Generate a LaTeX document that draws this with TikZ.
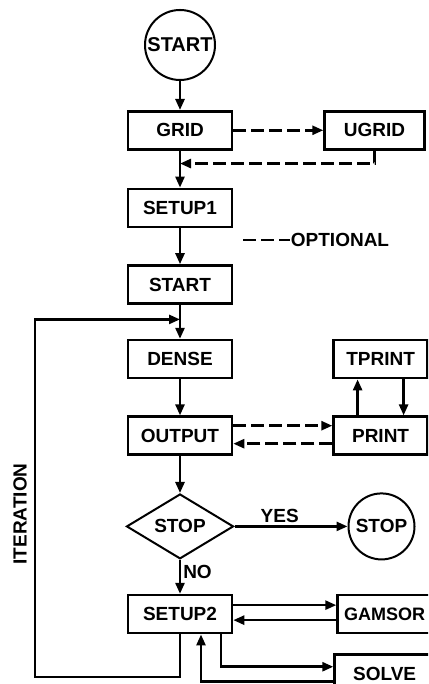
\documentclass[tikz,border=0pt]{standalone}
\usepackage{fontspec}
\setmainfont{Liberation Sans}
\usetikzlibrary{shapes.geometric,arrows.meta,positioning,calc}

\begin{document}
\begin{tikzpicture}[
    x=1pt,y=1pt,
    node distance=36pt,
    every node/.style={font=\fontsize{19}{22}\selectfont\bfseries,inner sep=2pt},
    block/.style={draw,line width=2.6pt,minimum width=104pt,minimum height=38pt},
    sideblock/.style={block,minimum width=94pt},
    term/.style={draw,circle,line width=2pt,inner sep=0pt},
    test/.style={draw,diamond,line width=2pt,minimum width=107pt,minimum height=58pt,inner sep=0pt},
    arrow/.style={-{Triangle[length=11pt,width=9pt]},line width=2.5pt},
    optarrow/.style={arrow,dash pattern=on 13pt off 5pt}
  ]
    \clip (0,0) rectangle (428,684);
    \node[term,minimum size=70pt,font=\fontsize{20}{22}\selectfont\bfseries] (begin) at (180,639) {START};
    \node[block] (grid)   [below=29pt of begin]  {GRID};
    \node[block] (setup1) [below=37pt of grid]   {SETUP1};
    \node[block] (startb) [below=of setup1]      {START};
    \node[block] (dense)  [below=34pt of startb] {DENSE};
    \node[block] (output) [below=of dense]       {OUTPUT};
    \node[test]  (stopq)  [below=37pt of output] {STOP};
    \node[block] (setup2) [below=34pt of stopq]  {SETUP2};
    \node[sideblock,minimum width=100pt] (ugrid)  [right=90pt of grid]   {UGRID};
    \node[sideblock] (print)  [right=99pt of output] {PRINT};
    \node[sideblock] (tprint) [above=of print]       {TPRINT};
    \node[term,minimum size=66pt] (halt) [right=113pt of stopq] {STOP};
    \node[sideblock,font=\fontsize{18}{21}\selectfont\bfseries] (gamsor) [right=103pt of setup2] {GAMSOR};
    \node[sideblock,minimum width=100pt] (solve)  [below=19pt of gamsor]  {SOLVE};
    \node[inner sep=1pt] (optlabel) at (340,444) {OPTIONAL};
    \node[rotate=90] (iterlabel) at (20,170) {ITERATION};
    \coordinate (legend) at (243,444);
    \coordinate (loopcorner) at (35,7);
    \coordinate (gridjoin) at ($(grid.south)!0.35!(setup1.north)$);
    \coordinate (iterjoin) at ($(startb.south)!0.43!(dense.north)$);
    \draw[arrow] (begin) -- (grid);
    \draw[arrow] (grid) -- (setup1);
    \draw[arrow] (setup1) -- (startb);
    \draw[arrow] (startb) -- (dense);
    \draw[arrow] (dense) -- (output);
    \draw[arrow] (output) -- (stopq);
    \draw[arrow] (stopq) -- node[right,pos=0.35]{NO} (setup2);
    \draw[arrow] (stopq) -- node[above,pos=0.4]{YES} (halt);
    \draw[optarrow] (grid) -- (ugrid);
    \draw[optarrow] (ugrid.south) |- (gridjoin);
    \draw[line width=2.2pt,dash pattern=on 13pt off 5pt] (legend) -- (optlabel.west);
    \draw[optarrow] ([yshift=10pt]output.east) -- ([yshift=10pt]print.west);
    \draw[optarrow] ([yshift=-8pt]print.west) -- ([yshift=-8pt]output.east);
    \draw[arrow] ([xshift=-23pt]print.north) -- ([xshift=-23pt]tprint.south);
    \draw[arrow] ([xshift=23pt]tprint.south) -- ([xshift=23pt]print.north);
    \draw[arrow] ([yshift=9pt]setup2.east) -- ([yshift=9pt]gamsor.west);
    \draw[arrow] ([yshift=-6pt]gamsor.west) -- ([yshift=-6pt]setup2.east);
    \draw[arrow] ([xshift=41pt]setup2.south) |- ([yshift=7pt]solve.west);
    \draw[arrow] ([yshift=-8pt]solve.west) -| ([xshift=21pt]setup2.south);
    \draw[arrow] (setup2.south) |- (loopcorner) |- (iterjoin);
  \end{tikzpicture}
\end{document}
